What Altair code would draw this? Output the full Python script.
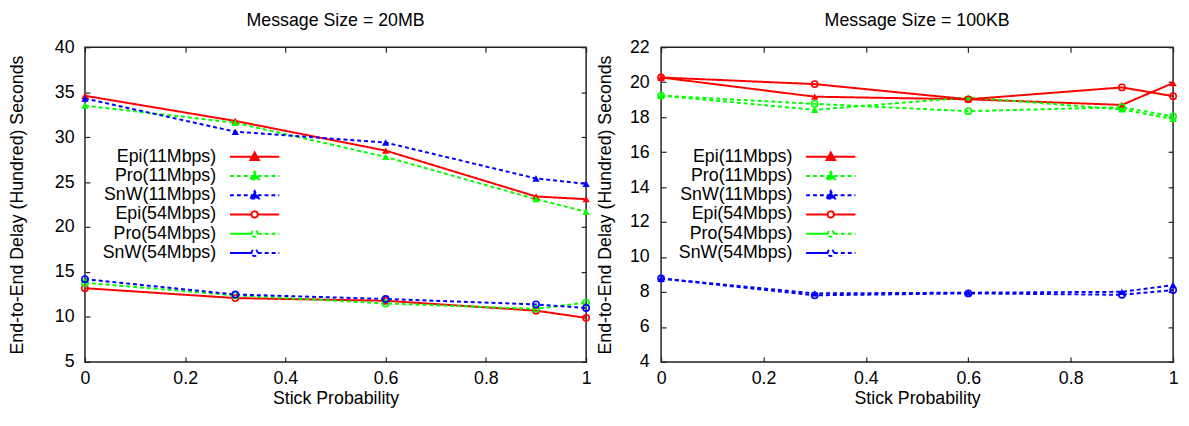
import altair as alt
import pandas as pd

probs = [0, 0.3, 0.6, 0.9, 1.0]
series = ["Epi(11Mbps)", "Pro(11Mbps)", "SnW(11Mbps)",
          "Epi(54Mbps)", "Pro(54Mbps)", "SnW(54Mbps)"]
series_colors = ["#ff0000", "#00ff00", "#0000ff", "#ff0000", "#00ff00", "#0000ff"]
series_fill = ["#ff0000", "#00ff00", "#0000ff", "#ffffff", "#ffffff", "#ffffff"]
series_dash = [[1, 0], [4, 3], [4, 3], [1, 0], [4, 3], [4, 3]]

# Message Size = 20MB
epi11_20 = [34.6, 31.8, 28.5, 23.4, 23.1]
pro11_20 = [33.5, 31.6, 27.8, 23.1, 21.7]
snw11_20 = [34.3, 30.6, 29.4, 25.4, 24.8]
epi54_20 = [13.2, 12.1, 11.8, 10.7, 9.9]
pro54_20 = [13.8, 12.4, 11.5, 10.9, 11.6]
snw54_20 = [14.2, 12.5, 12.0, 11.4, 11.0]

# Message Size = 100KB
epi11_100 = [20.27, 19.17, 19.02, 18.70, 19.95]
pro11_100 = [19.23, 18.42, 19.13, 18.44, 17.90]
snw11_100 = [8.77, 7.92, 7.96, 8.01, 8.39]
epi54_100 = [20.27, 19.89, 19.02, 19.70, 19.20]
pro54_100 = [19.23, 18.76, 18.34, 18.57, 18.04]
snw54_100 = [8.77, 7.81, 7.92, 7.84, 8.11]

x_ticks = [0, 0.2, 0.4, 0.6, 0.8, 1.0]
y_ticks_20 = [5, 10, 15, 20, 25, 30, 35, 40]
y_ticks_100 = [4, 6, 8, 10, 12, 14, 16, 18, 20, 22]

FONT = "Liberation Sans"
FS = 18
HEIGHT = 319

# legend symbols: line sample with marker (unit = 5px)
TRI = "M-5,0H5M-0.85,0.65L0,-0.85L0.85,0.65Z"
CIR = "M-5,0H-0.64A0.64,0.64 0 1,1 0.64,0A0.64,0.64 0 1,1 -0.64,0ZM0.64,0H5"
legend_shapes = [TRI, TRI, TRI, CIR, CIR, CIR]


def build_df(values):
    rows = []
    for name, vals in zip(series, values):
        for p, v in zip(probs, vals):
            rows.append({"p": p, "v": v, "s": name,
                         "rate": "11" if "11" in name else "54"})
    return pd.DataFrame(rows)


def panel(values, title, ydom, yticks, width, label_pad, title_pad):
    df = build_df(values)
    xs = alt.Scale(domain=[0, 1], nice=False, zero=False)
    ys = alt.Scale(domain=ydom, nice=False, zero=False)
    col = alt.Color("s:N", scale=alt.Scale(domain=series, range=series_colors), legend=None)
    dash = alt.StrokeDash("s:N", scale=alt.Scale(domain=series, range=series_dash), legend=None)

    tick_common = dict(tickSize=5, tickWidth=1.2, tickColor="#222", labels=False,
                       domain=False, grid=False, title=None,
                       minExtent=0, maxExtent=0)

    lines = alt.Chart(df).mark_line(strokeWidth=2).encode(
        x=alt.X("p:Q", scale=xs, axis=alt.Axis(
            title="Stick Probability", values=x_ticks, format="~g", tickSize=0,
            domain=False, grid=False, labelPadding=8, labelFlush=False,
            labelFont=FONT, labelFontSize=FS, labelColor="#000",
            titleFont=FONT, titleFontSize=FS, titleFontWeight="normal",
            titleColor="#000", titlePadding=2)),
        y=alt.Y("v:Q", scale=ys, axis=alt.Axis(
            title="End-to-End Delay (Hundred) Seconds", values=yticks, tickSize=0,
            domain=False, grid=False, labelPadding=label_pad, labelFlush=False,
            labelFont=FONT, labelFontSize=FS, labelColor="#000",
            titleFont=FONT, titleFontSize=FS, titleFontWeight="normal",
            titleColor="#000", titlePadding=title_pad, minExtent=0)),
        color=col, strokeDash=dash, detail="s:N")

    # inward ticks on bottom and left edges
    tri = alt.Chart(df).transform_filter(alt.datum.rate == "11").mark_point(
        shape="triangle-up", filled=True, size=55, opacity=1).encode(
        x=alt.X("p:Q", scale=xs, axis=alt.Axis(orient="bottom", values=x_ticks,
                                               offset=-5, **tick_common)),
        y=alt.Y("v:Q", scale=ys, axis=alt.Axis(orient="left", values=yticks,
                                               offset=-5, **tick_common)),
        color=col)

    # inward (mirror) ticks on top and right edges
    cir = alt.Chart(df).transform_filter(alt.datum.rate == "54").mark_point(
        shape="circle", filled=False, size=40, strokeWidth=1.6, opacity=1).encode(
        x=alt.X("p:Q", scale=xs, axis=alt.Axis(orient="top", values=x_ticks,
                                               offset=-5, **tick_common)),
        y=alt.Y("v:Q", scale=ys, axis=alt.Axis(orient="left", values=yticks,
                                               offset=-width, **tick_common)),
        color=col)

    leg_def = alt.Legend(
        orient="none", legendX=163, legendY=102, title=None,
        labelAlign="right", labelOffset=alt.ExprRef("-48"),
        labelFont=FONT, labelFontSize=FS, labelColor="#000", symbolSize=100,
        symbolStrokeWidth=2, rowPadding=1.5, padding=0, labelLimit=300)

    leg = alt.Chart(df).transform_filter("false").mark_point(
        filled=False, strokeWidth=2, opacity=1).encode(
        x=alt.X("p:Q", scale=xs, axis=None),
        y=alt.Y("v:Q", scale=ys, axis=None),
        color=alt.Color("s:N", scale=alt.Scale(domain=series, range=series_colors),
                        legend=leg_def),
        shape=alt.Shape("s:N", scale=alt.Scale(domain=series, range=legend_shapes),
                        legend=leg_def),
        fill=alt.Fill("s:N", scale=alt.Scale(domain=series, range=series_fill),
                      legend=leg_def),
        strokeDash=alt.StrokeDash("s:N", scale=alt.Scale(domain=series, range=series_dash),
                                  legend=leg_def))

    return alt.layer(lines, tri, cir, leg).resolve_axis(
        x="independent", y="independent").resolve_scale(
        color="independent", strokeDash="independent",
        shape="independent", fill="independent").properties(
        width=width, height=HEIGHT,
        title=alt.TitleParams(title, font=FONT, fontSize=FS, fontWeight="normal",
                              color="#000", anchor="middle", offset=9))


left = panel([epi11_20, pro11_20, snw11_20, epi54_20, pro54_20, snw54_20],
             "Message Size = 20MB", [5, 40], y_ticks_20, 508, 11, 28)
right = panel([epi11_100, pro11_100, snw11_100, epi54_100, pro54_100, snw54_100],
              "Message Size = 100KB", [4, 22], y_ticks_100, 519, 12, 15)

chart = alt.hconcat(left, right, spacing=2).resolve_scale(
    color="independent", shape="independent", fill="independent",
    strokeDash="independent").resolve_legend(
    color="independent", shape="independent", fill="independent",
    strokeDash="independent").properties(
    padding={"left": 0, "top": 0, "right": 0, "bottom": 0}
).configure_view(stroke="#222", strokeWidth=1.5)

chart.save("out.html", embed_options={"renderer": "svg", "actions": False})
